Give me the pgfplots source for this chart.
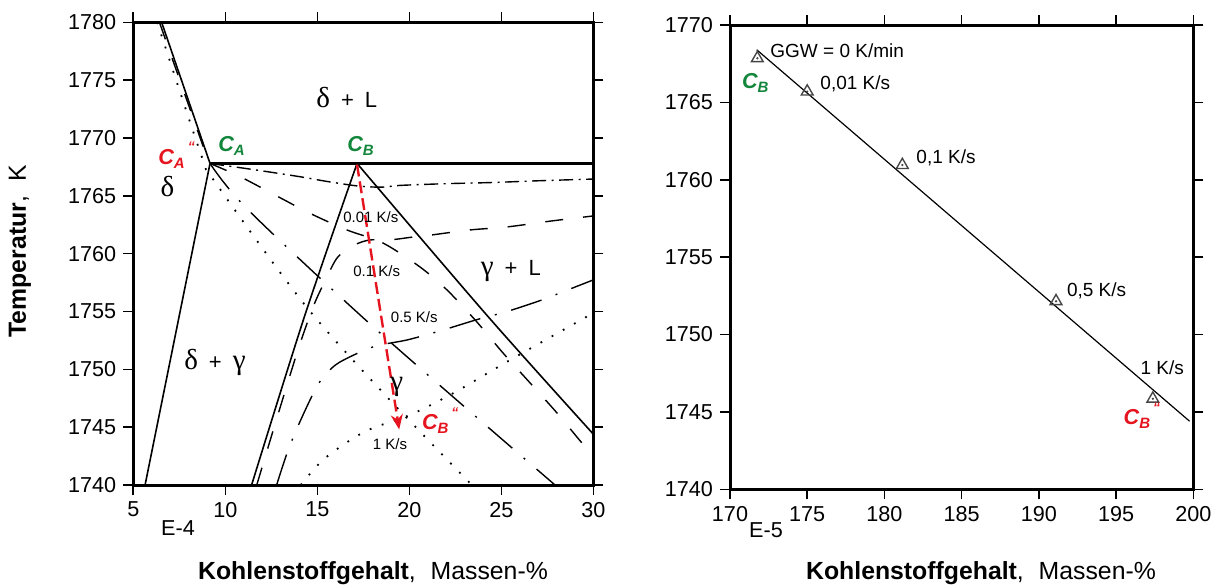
\documentclass[border=0pt]{standalone}
\usepackage{pgfplots}
\pgfplotsset{compat=1.18}
\usepackage{fontspec}
\setmainfont{Liberation Sans}
\newfontfamily\grkfont{Liberation Serif}
\usetikzlibrary{arrows.meta}

\definecolor{cgreen}{RGB}{18,135,60}
\definecolor{cred}{RGB}{230,20,30}
\definecolor{mkgray}{RGB}{70,70,70}

% line styles: equilibrium and the four cooling rates
\tikzset{
  eq/.style={black, line width=0.8pt},
  r001/.style={black, line width=0.7pt, dash pattern=on 7pt off 2.75pt on 1pt off 2.75pt},
  r01/.style={black, line width=0.7pt, dash pattern=on 9pt off 10pt},
  r05/.style={black, line width=0.7pt, dash pattern=on 16pt off 7.5pt on 1pt off 7.5pt},
  r1/.style={black, line width=0.9pt, dash pattern=on 0.9pt off 5.5pt},
  rate/.style={font=\fontsize{7.5}{9}\selectfont, inner sep=0pt},
  phase/.style={font=\fontsize{11}{13}\selectfont, inner sep=0pt},
}

\newcommand{\grk}[1]{{\grkfont\fontsize{14.5}{16}\selectfont #1}}
\newcommand{\Cl}[2]{{\bfseries\itshape\fontsize{10.8}{12}\selectfont C\raisebox{-0.35ex}{\fontsize{7.5}{8}\selectfont #1}#2}}
\newcommand{\qt}{\kern1.5pt\raisebox{1.1ex}{\fontsize{7}{8}\selectfont “}}

\pgfplotsset{
  base/.style={
    scale only axis, anchor=south west,
    axis line style={line width=1.5pt},
    tick align=outside, major tick length=5pt,
    tick style={black, line width=0.8pt},
    tick label style={font=\fontsize{10.8}{12}\selectfont},
    /pgf/number format/assume math mode=true,
    /pgf/number format/1000 sep={},
    scaled ticks=false, minor tick num=0,
    clip mode=individual,
  }
}

\begin{document}
\begin{tikzpicture}
\useasboundingbox (0,0) rectangle (611pt,293pt);

% ---------------- phase diagram ----------------
\begin{axis}[base, at={(66.65pt,50.5pt)}, width=230pt, height=231.35pt,
  xmin=5, xmax=30, ymin=1740, ymax=1780,
  xtick={5,10,...,30}, ytick={1740,1745,...,1780}]

% equilibrium (GGW)
\addplot[eq] coordinates {(6.54,1780) (9.17,1767.8)};
\addplot[eq] coordinates {(9.17,1767.8) (5.64,1740)};
\addplot[black, line width=1.4pt] coordinates {(9.17,1767.8) (30,1767.8)};
\addplot[eq, smooth] coordinates {(17.16,1767.8) (14.33,1754.7) (11.43,1740)};
\addplot[eq, smooth] coordinates {(17.16,1767.8) (24.28,1754.56) (30,1744.4)};

% 0.01 K/s
\addplot[r001, smooth] coordinates {(9.17,1767.8) (11.6,1767.25) (14.06,1766.65) (15.5,1766.25) (17.2,1765.85) (18.5,1765.75) (19.5,1765.9) (22,1766.05) (24.5,1766.15) (27,1766.3) (30,1766.45)};

% 0.1 K/s
\addplot[r01] coordinates {(6.42,1780) (9.1,1767.9)};
\addplot[r01, smooth] coordinates {(9.17,1767.8) (10.80,1766.66) (12.70,1765.07) (14.60,1763.49) (16.61,1762.05) (18.57,1760.92) (20.58,1758.85) (22.05,1756.86) (23.67,1754.1) (25.09,1751.42) (26.56,1748.83) (28.02,1746.24) (29.38,1743.64) (30,1742.6)};
\addplot[r01, smooth] coordinates {(11.71,1740) (12.75,1745.5) (13.95,1751.68) (14.8,1755.5) (15.5,1757.9) (16.12,1759.72) (17.04,1760.76) (17.86,1761.18) (19.11,1761.22) (20.2,1761.44) (21.23,1761.62) (23.3,1762.05) (25.31,1762.31) (27.75,1762.83) (30,1763.26)};

% 0.5 K/s
\addplot[r05, smooth] coordinates {(9.17,1767.8) (11.23,1763.8) (18.23,1753.4) (27.92,1740)};
\addplot[r05, smooth] coordinates {(12.79,1740) (13.41,1743.0) (14.15,1745.8) (14.97,1748.5) (15.53,1749.69) (16.24,1750.64) (18.03,1751.94) (19.88,1752.54) (21.67,1753.32) (23.68,1754.3) (25.31,1755.0) (27.21,1756.0) (28.89,1757.04) (30,1757.73)};

% 1 K/s
\addplot[r1, smooth] coordinates {(6.30,1780) (8.72,1768.4) (9.44,1766.2) (14.33,1755.56) (18.79,1747.61) (23.4,1740)};
\addplot[r1, smooth] coordinates {(14.1,1740) (15.42,1742.32) (17.59,1744.62) (20.04,1746.06) (22.39,1747.94) (25.47,1750.8) (30,1754.87)};

% shift of the peritectic point
\addplot[cred, line width=1.2pt, dash pattern=on 6pt off 2.5pt, -{Stealth[length=7.5pt, width=6pt]}] coordinates {(17.16,1767.7) (19.45,1744.8)};

% phase fields
\node[phase] at (axis cs:16.6,1773.5) {\grk{δ}\enspace+\enspace L};
\node[phase] at (axis cs:6.86,1765.84) {\grk{δ}};
\node[phase] at (axis cs:9.44,1750.6) {\grk{δ}\enspace+\enspace\grk{γ}};
\node[phase] at (axis cs:25.52,1758.5) {\grk{γ}\enspace+\enspace L};
\node[phase] at (axis cs:19.32,1748.44) {\grk{γ}};

% cooling rates
\node[rate] at (axis cs:17.91,1763.16) {0.01 K/s};
\node[rate] at (axis cs:18.23,1758.52) {0.1 K/s};
\node[rate] at (axis cs:20.27,1754.49) {0.5 K/s};
\node[rate] at (axis cs:18.95,1743.54) {1 K/s};

% characteristic points
\node[anchor=base west, inner sep=0pt, text=cred] at (axis cs:6.34,1767.75) {\Cl{A}{\qt}};
\node[anchor=base west, inner sep=0pt, text=cgreen] at (axis cs:9.6,1768.79) {\Cl{A}{}};
\node[anchor=base west, inner sep=0pt, text=cgreen] at (axis cs:16.61,1768.79) {\Cl{B}{}};
\node[anchor=base west, inner sep=0pt, text=cred] at (axis cs:20.67,1744.77) {\Cl{B}{\qt}};
\end{axis}

% ---------------- peritectic point vs. cooling rate ----------------
\begin{axis}[base, at={(365pt,48.35pt)}, width=231.65pt, height=232.15pt,
  xmin=170, xmax=200, ymin=1740, ymax=1770,
  xtick={170,175,...,200}, ytick={1740,1745,...,1770}]

\addplot[black, line width=0.6pt] coordinates {(171.73,1768.4) (199.76,1744.4)};
\addplot[only marks, mark=triangle, mark size=3.4pt, mark options={draw=mkgray, line width=0.7pt}]
  coordinates {(171.77,1767.85) (175.0,1765.7) (181.16,1760.95) (191.11,1752.15) (197.38,1745.85)};
\addplot[only marks, mark=*, mark size=0.35pt, mark options={draw=mkgray, fill=mkgray}]
  coordinates {(171.77,1767.85) (175.0,1765.7) (181.16,1760.95) (191.11,1752.15) (197.38,1745.85)};

\node[anchor=west, inner sep=0pt, font=\fontsize{9.5}{11}\selectfont] at (axis cs:172.59,1768.33) {GGW = 0 K/min};
\node[anchor=west, inner sep=0pt, font=\fontsize{9.5}{11}\selectfont] at (axis cs:175.83,1766.18) {0,01 K/s};
\node[anchor=west, inner sep=0pt, font=\fontsize{9.5}{11}\selectfont] at (axis cs:182.05,1761.44) {0,1 K/s};
\node[anchor=west, inner sep=0pt, font=\fontsize{9.5}{11}\selectfont] at (axis cs:191.8,1752.83) {0,5 K/s};
\node[anchor=west, inner sep=0pt, font=\fontsize{9.5}{11}\selectfont] at (axis cs:196.56,1747.88) {1 K/s};

\node[anchor=base west, inner sep=0pt, text=cgreen] at (axis cs:170.76,1765.91) {\Cl{B}{}};
\node[anchor=base west, inner sep=0pt, text=cred] at (axis cs:195.47,1744.16) {\Cl{B}{\qt}};
\end{axis}

% exponents and axis titles
\node[font=\fontsize{10.8}{12}\selectfont] at (89pt,29pt) {E-4};
\node[font=\fontsize{10.8}{12}\selectfont] at (383pt,28pt) {E-5};
\node[font=\fontsize{12.4}{14}\selectfont] at (186.5pt,6.5pt) {\textbf{Kohlenstoffgehalt},\hspace{0.6em}Massen-\%};
\node[font=\fontsize{12.4}{14}\selectfont] at (490.5pt,6.5pt) {\textbf{Kohlenstoffgehalt},\hspace{0.6em}Massen-\%};
\node[font=\fontsize{12.4}{14}\selectfont, rotate=90] at (10pt,167.5pt) {\textbf{Temperatur},\hspace{0.6em}K};
\end{tikzpicture}
\end{document}
